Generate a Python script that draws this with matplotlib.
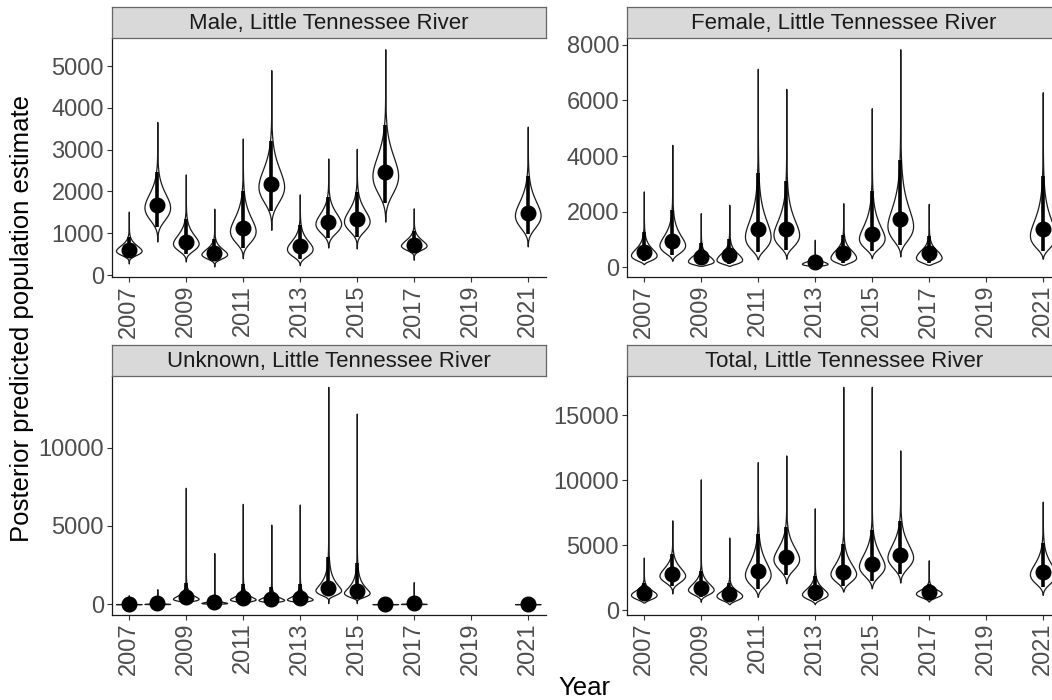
import numpy as np
import matplotlib
matplotlib.use("Agg")
import matplotlib.pyplot as plt

plt.rcParams['font.family'] = ['Liberation Sans', 'DejaVu Sans']

# ---------------- data ----------------
years = [2007, 2008, 2009, 2010, 2011, 2012, 2013, 2014, 2015, 2016, 2017, 2021]

male_med  = [604, 1677, 803, 525, 1137, 2186, 684, 1272, 1335, 2456, 723, 1495]
male_lo   = [420, 1153, 500, 342, 660, 1534, 381, 882, 922, 1717, 540, 981]
male_hi   = [922, 2464, 1351, 858, 2011, 3219, 1192, 1876, 1995, 3585, 1057, 2365]
male_min  = [278, 803, 326, 207, 405, 1081, 238, 660, 636, 1280, 366, 688]
male_max  = [1518, 3665, 2409, 1590, 3267, 4905, 1932, 2790, 3021, 5405, 1598, 3552]

female_med = [551, 934, 359, 431, 1389, 1377, 180, 515, 1210, 1737, 515, 1389]
female_lo  = [216, 431, 96, 120, 551, 635, 60, 156, 575, 814, 156, 599]
female_hi  = [1269, 2048, 874, 1030, 3389, 3090, 400, 1174, 2731, 3868, 1114, 3269]
female_min = [120, 240, 60, 60, 299, 311, 36, 96, 335, 395, 96, 311]
female_max = [2731, 4407, 1952, 2251, 7138, 6419, 994, 2311, 5725, 7844, 2287, 6299]

unknown_med = [20, 43, 427, 128, 385, 342, 385, 1026, 855, 4, 43, 4]
unknown_lo  = [1, 5, 171, 30, 150, 130, 150, 491, 385, 1, 5, 1]
unknown_hi  = [120, 250, 1346, 600, 1282, 1068, 1282, 2991, 2628, 40, 250, 40]
unknown_min = [0.5, 0.5, 20, 5, 20, 20, 20, 64, 64, 0.5, 0.5, 0.5]
unknown_max = [574, 962, 7436, 3269, 6410, 5085, 6368, 13889, 12180, 150, 1410, 150]

total_med = [1282, 2769, 1692, 1231, 3026, 4103, 1359, 2949, 3590, 4256, 1359, 2974]
total_lo  = [718, 1872, 1026, 641, 1615, 2718, 718, 1872, 2256, 2821, 846, 1744]
total_hi  = [2128, 4308, 3026, 2128, 5846, 6410, 2641, 5128, 6154, 6872, 2051, 5205]
total_min = [590, 1282, 641, 462, 1026, 2077, 462, 1436, 1692, 2128, 667, 1179]
total_max = [4051, 6923, 10077, 5590, 11410, 11923, 7846, 17205, 17205, 12308, 3846, 8359]

panel_titles = ["Male, Little Tennessee River", "Female, Little Tennessee River",
                "Unknown, Little Tennessee River", "Total, Little Tennessee River"]
x_ticks = [2007, 2009, 2011, 2013, 2015, 2017, 2019, 2021]
y_ticks = [[0, 1000, 2000, 3000, 4000, 5000],
           [0, 2000, 4000, 6000, 8000],
           [0, 5000, 10000],
           [0, 5000, 10000, 15000]]

panels = [
    (male_med, male_lo, male_hi, male_min, male_max),
    (female_med, female_lo, female_hi, female_min, female_max),
    (unknown_med, unknown_lo, unknown_hi, unknown_min, unknown_max),
    (total_med, total_lo, total_hi, total_min, total_max),
]

# ---------------- layout ----------------
W, H = 1052, 700
fig = plt.figure(figsize=(W / 100, H / 100), dpi=100)

ax_w = 434
ax_h = 239
strip_h = 31
lefts = [111.7, 626.7]
tops = [38.3, 376.0]

TICK_COLOR = '#4D4D4D'
LINE_COLOR = '#1A1A1A'


def violin(ax, x, med, lo, hi, vmin, vmax, half=0.45):
    y = np.unique(np.concatenate([np.linspace(vmin, vmax, 3000),
                                  np.geomspace(vmin, vmax, 3000)]))
    mu = np.log(med)
    s_lo = max(np.log(med / lo) / 1.96, 1e-3)
    s_hi = max(np.log(hi / med) / 1.96, 1e-3)
    s = np.where(y < med, s_lo, s_hi)
    w = np.exp(-((np.log(y) - mu) ** 2) / (2 * s ** 2)) / y
    w = w / w.max() * half
    ax.fill_betweenx(y, x - w, x + w, facecolor='white',
                     edgecolor=LINE_COLOR, linewidth=0.9, zorder=2)


for i, (med, lo, hi, vmn, vmx) in enumerate(panels):
    r, c = divmod(i, 2)
    left = lefts[c]
    top = tops[r]
    ax = fig.add_axes([left / W, (H - top - ax_h) / H, ax_w / W, ax_h / H])
    for x, m, l, h, a, b in zip(years, med, lo, hi, vmn, vmx):
        violin(ax, x, m, l, h, a, b)
    ax.vlines(years, lo, hi, color='black', linewidth=2.6, zorder=3)
    ax.plot(years, med, 'o', color='black', markersize=10.5, zorder=4)

    dmin = min(vmn)
    dmax = max(vmx)
    rng = dmax - dmin
    ax.set_ylim(dmin - 0.05 * rng, dmax + 0.05 * rng)
    ax.set_xlim(2006.40, 2021.63)
    ax.set_xticks(x_ticks)
    ax.set_xticklabels([str(t) for t in x_ticks], rotation=90)
    ax.set_yticks(y_ticks[i])
    ax.set_yticklabels([str(t) for t in y_ticks[i]])
    for sp in ['top', 'right']:
        ax.spines[sp].set_visible(False)
    for sp in ['left', 'bottom']:
        ax.spines[sp].set_color(LINE_COLOR)
        ax.spines[sp].set_linewidth(0.9)
    ax.tick_params(axis='both', labelsize=17, labelcolor=TICK_COLOR,
                   color='#333333', length=3.5, width=0.8, pad=2)

    sax = fig.add_axes([left / W, (H - top) / H, ax_w / W, strip_h / H])
    sax.set_facecolor('#D9D9D9')
    sax.set_xticks([])
    sax.set_yticks([])
    for sp in sax.spines.values():
        sp.set_color('#666666')
        sp.set_linewidth(0.9)
    sax.text(0.5, 0.47, panel_titles[i], transform=sax.transAxes,
             ha='center', va='center', fontsize=16, color='#1A1A1A')

fig.text(22 / W, (H - 318) / H, "Posterior predicted population estimate",
         rotation=90, ha='center', va='center', fontsize=18.5, color='black')
fig.text(584 / W, (H - 688) / H, "Year", ha='center', va='center',
         fontsize=18.5, color='black')

fig.savefig("out.png", dpi=100)
